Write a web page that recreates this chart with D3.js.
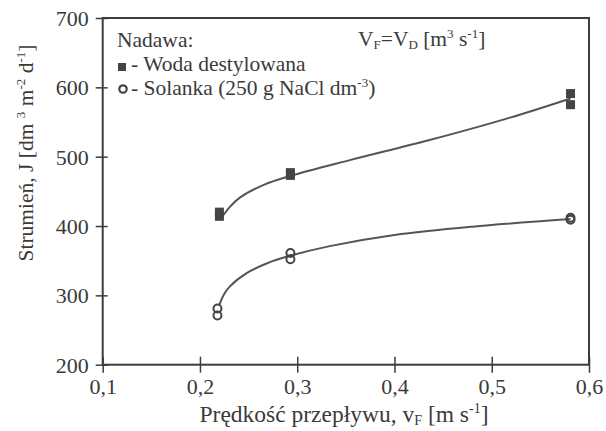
<!DOCTYPE html>
<html><head><meta charset="utf-8">
<script src="https://cdn.jsdelivr.net/npm/d3@7"></script>
<style>
body{margin:0;background:#fff;}
svg text{font-family:"Liberation Serif","DejaVu Serif",serif !important;fill:#3a3a3a;}
</style></head>
<body><svg id="c" width="606" height="431"></svg>
<script>
// Measured points
const waterX = [0.22, 0.22, 0.293, 0.293, 0.581, 0.581];
const waterY = [420, 414, 477, 473, 591, 575];
const brineX = [0.218, 0.218, 0.293, 0.293, 0.581, 0.581];
const brineY = [281, 271, 361, 352, 412, 409];
// Fitted curves
const waterCurveX = [0.2206, 0.231, 0.241, 0.2668, 0.2924, 0.354, 0.436, 0.518, 0.581];
const waterCurveY = [409, 428, 441, 460, 472, 495, 524, 556, 584];
const brineCurveX = [0.2198, 0.2245, 0.2308, 0.248, 0.2685, 0.2924, 0.3335, 0.40, 0.48, 0.581];
const brineCurveY = [286, 301, 313, 332, 346, 357, 371, 387, 399, 410];
const xTicks = [0.1, 0.2, 0.3, 0.4, 0.5, 0.6];
const yTicks = [200, 300, 400, 500, 600, 700];

const svg = d3.select("#c");
const m = {l: 102.7, t: 18, r: 17, b: 66.3};
const W = 606 - m.l - m.r, H = 431 - m.t - m.b;
const x = d3.scaleLinear().domain([0.1, 0.6]).range([0, W]);
const y = d3.scaleLinear().domain([200, 700]).range([H, 0]);
const g = svg.append("g").attr("transform", `translate(${m.l},${m.t})`);
const col = "#3d3d3d";
const fmt = d => d3.format(".1f")(d).replace(".", ",");

// frame
g.append("rect").attr("x", 0).attr("y", 0).attr("width", W).attr("height", H)
  .attr("fill", "none").attr("stroke", col).attr("stroke-width", 2);

// axes
const xa = g.append("g").attr("transform", `translate(0,${H})`)
  .call(d3.axisBottom(x).tickValues(xTicks).tickFormat(fmt).tickSizeInner(8).tickSizeOuter(0));
xa.select(".domain").remove();
xa.selectAll(".tick line").attr("y1", -8).attr("stroke", col).attr("stroke-width", 1.5);
xa.selectAll(".tick text").attr("font-size", 22).attr("fill", col).attr("y", 29).attr("dy", 0);

const ya = g.append("g")
  .call(d3.axisLeft(y).tickValues(yTicks).tickSizeInner(7).tickSizeOuter(0));
ya.select(".domain").remove();
ya.selectAll(".tick line").attr("x1", -7).attr("x2", 5).attr("stroke", col).attr("stroke-width", 1.5);
ya.selectAll(".tick text").attr("font-size", 22).attr("fill", col).attr("x", -14).attr("dy", "0.34em");

// curves
const line = d3.line().x(d => x(d[0])).y(d => y(d[1])).curve(d3.curveCatmullRom);
g.append("path").datum(d3.zip(waterCurveX, waterCurveY)).attr("d", line)
  .attr("fill", "none").attr("stroke", "#555").attr("stroke-width", 2);
g.append("path").datum(d3.zip(brineCurveX, brineCurveY)).attr("d", line)
  .attr("fill", "none").attr("stroke", "#555").attr("stroke-width", 2);

// markers
g.selectAll(".sq").data(d3.zip(waterX, waterY)).join("rect")
  .attr("x", d => x(d[0]) - 4.5).attr("y", d => y(d[1]) - 4.5)
  .attr("width", 9).attr("height", 9).attr("fill", "#444");
g.selectAll(".ci").data(d3.zip(brineX, brineY)).join("circle")
  .attr("cx", d => x(d[0])).attr("cy", d => y(d[1])).attr("r", 4)
  .attr("fill", "none").attr("stroke", "#444").attr("stroke-width", 2);

// legend
const LF = 21.5, LS = 13;
svg.append("text").attr("x", 117).attr("y", 47).attr("font-size", LF).text("Nadawa:");
const vt = svg.append("text").attr("x", 358).attr("y", 46).attr("font-size", LF);
vt.append("tspan").text("V");
vt.append("tspan").attr("font-size", LS).attr("dy", 3).text("F");
vt.append("tspan").attr("dy", -3).text("=V");
vt.append("tspan").attr("font-size", LS).attr("dy", 3).text("D");
vt.append("tspan").attr("dy", -3).text(" [m");
vt.append("tspan").attr("font-size", LS).attr("dy", -8).text("3");
vt.append("tspan").attr("dy", 8).text(" s");
vt.append("tspan").attr("font-size", LS).attr("dy", -8).text("-1");
vt.append("tspan").attr("dy", 8).text("]");

svg.append("rect").attr("x", 118).attr("y", 63).attr("width", 8).attr("height", 8).attr("fill", "#444");
svg.append("text").attr("x", 131).attr("y", 71).attr("font-size", LF).text("- Woda destylowana");
svg.append("circle").attr("cx", 123).attr("cy", 89).attr("r", 3.7).attr("fill", "none").attr("stroke", "#444").attr("stroke-width", 2.2);
const st = svg.append("text").attr("x", 131).attr("y", 95).attr("font-size", LF);
st.append("tspan").text("- Solanka (250 g NaCl dm");
st.append("tspan").attr("font-size", LS).attr("dy", -8).text("-3");
st.append("tspan").attr("dy", 8).text(")");

// axis titles
const xt = svg.append("text").attr("x", 344).attr("y", 422).attr("text-anchor", "middle").attr("font-size", 23.5);
xt.append("tspan").text("Prędkość przepływu, v");
xt.append("tspan").attr("font-size", 14).attr("dy", 3).text("F");
xt.append("tspan").attr("dy", -3).text(" [m s");
xt.append("tspan").attr("font-size", 14).attr("dy", -9).text("-1");
xt.append("tspan").attr("dy", 9).text("]");

const yt = svg.append("text").attr("transform", "translate(33,153) rotate(-90)")
  .attr("text-anchor", "middle").attr("font-size", 21.5);
yt.append("tspan").text("Strumień,  J [dm ");
yt.append("tspan").attr("font-size", 13).attr("dy", -8).text("3");
yt.append("tspan").attr("dy", 8).text(" m");
yt.append("tspan").attr("font-size", 13).attr("dy", -8).text("-2");
yt.append("tspan").attr("dy", 8).text(" d");
yt.append("tspan").attr("font-size", 13).attr("dy", -8).text("-1");
yt.append("tspan").attr("dy", 8).text("]");
</script></body></html>
